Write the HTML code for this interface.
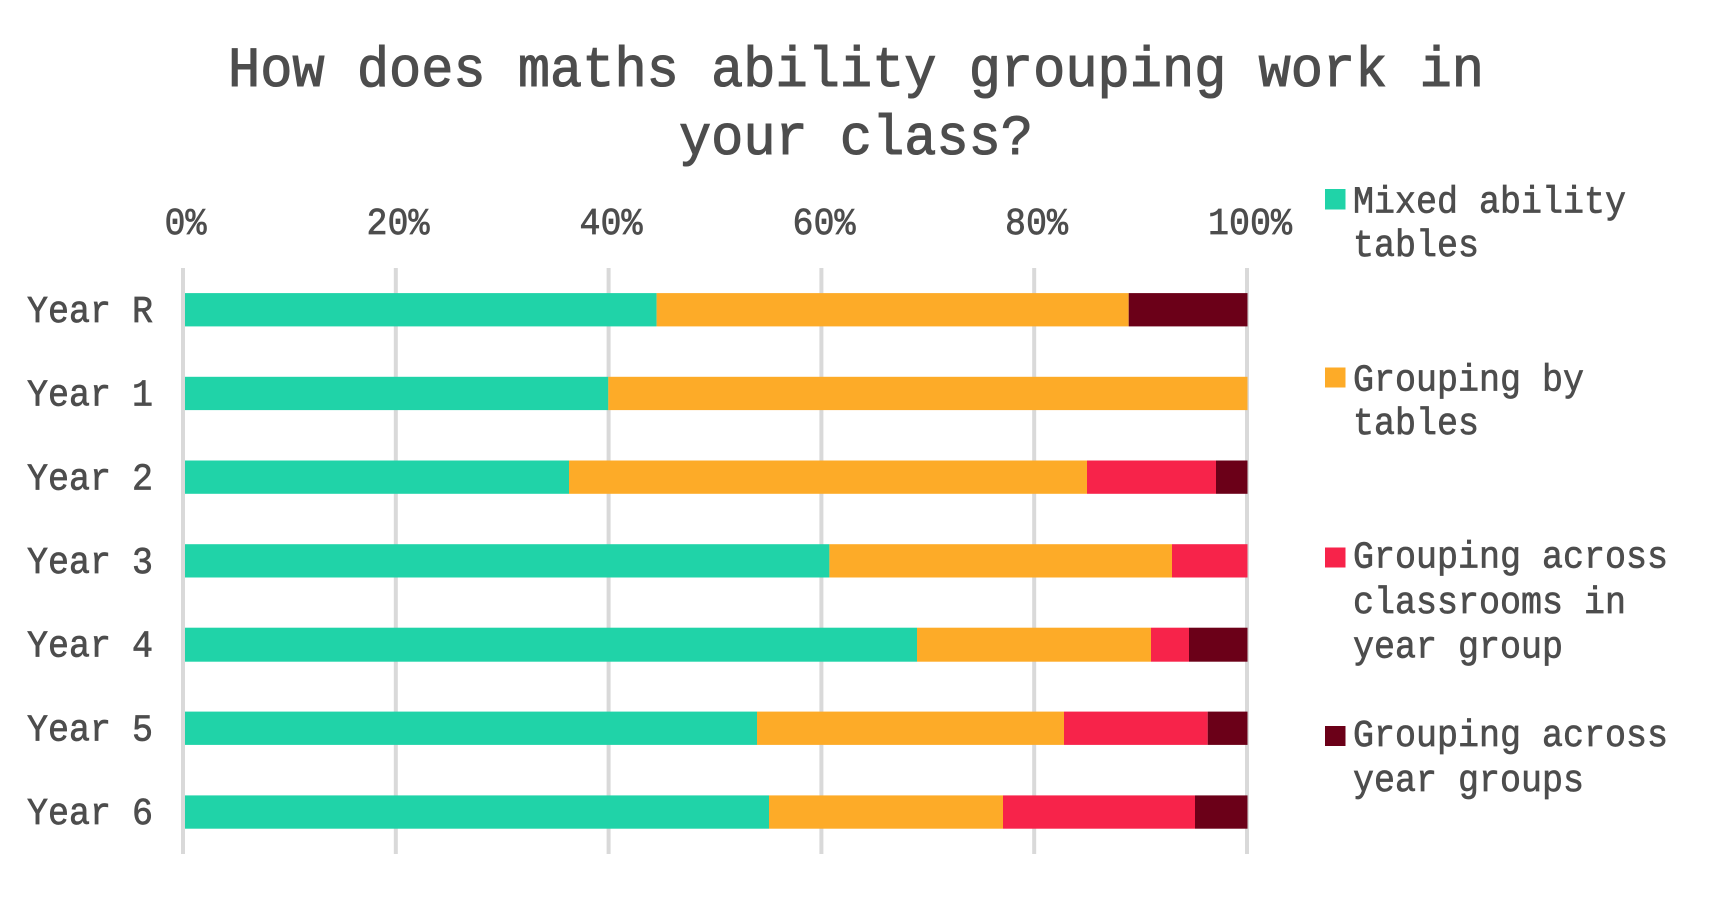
<!DOCTYPE html>
<html>
<head>
<meta charset="utf-8">
<style>
  html,body{margin:0;padding:0;background:#fff;}
  svg{display:block;}
  text{font-family:"Liberation Mono","DejaVu Sans Mono",monospace;fill:#4d4d4d;stroke:#4d4d4d;stroke-width:0.7px;}
  .t{stroke-width:1.1px;}
</style>
</head>
<body>
<svg width="1715" height="900" viewBox="0 0 1715 900" xmlns="http://www.w3.org/2000/svg">
  <rect x="0" y="0" width="1715" height="900" fill="#ffffff"/>

  <!-- Title -->
  <text class="t" x="856" y="86" font-size="57" text-anchor="middle" textLength="1256" lengthAdjust="spacingAndGlyphs">How does maths ability grouping work in</text>
  <text class="t" x="856" y="154" font-size="57" text-anchor="middle" textLength="354" lengthAdjust="spacingAndGlyphs">your class?</text>

  <!-- Tick labels -->
  <g font-size="38" text-anchor="middle">
    <text x="185.5" y="234" textLength="42" lengthAdjust="spacingAndGlyphs">0%</text>
    <text x="398" y="234" textLength="63" lengthAdjust="spacingAndGlyphs">20%</text>
    <text x="611" y="234" textLength="63" lengthAdjust="spacingAndGlyphs">40%</text>
    <text x="824" y="234" textLength="63" lengthAdjust="spacingAndGlyphs">60%</text>
    <text x="1036.5" y="234" textLength="63" lengthAdjust="spacingAndGlyphs">80%</text>
    <text x="1250" y="234" textLength="84" lengthAdjust="spacingAndGlyphs">100%</text>
  </g>

  <!-- Gridlines -->
  <g fill="#d9d9d9">
    <rect x="181" y="268" width="4" height="586"/>
    <rect x="393.8" y="268" width="4" height="586"/>
    <rect x="606.6" y="268" width="4" height="586"/>
    <rect x="819.4" y="268" width="4" height="586"/>
    <rect x="1032.2" y="268" width="4" height="586"/>
    <rect x="1245" y="268" width="4" height="586"/>
  </g>

  <!-- Bars -->
  <g>
    <rect x="185" y="293.1" width="471.6" height="33.3" fill="#20d3a8"/>
    <rect x="656.6" y="293.1" width="472.1" height="33.3" fill="#fdab28"/>
    <rect x="1128.7" y="293.1" width="118.8" height="33.3" fill="#6b0018"/>
  </g>
  <g>
    <rect x="185" y="376.8" width="423.3" height="33.3" fill="#20d3a8"/>
    <rect x="608.3" y="376.8" width="639.2" height="33.3" fill="#fdab28"/>
  </g>
  <g>
    <rect x="185" y="460.5" width="384" height="33.3" fill="#20d3a8"/>
    <rect x="569" y="460.5" width="518" height="33.3" fill="#fdab28"/>
    <rect x="1087" y="460.5" width="129" height="33.3" fill="#f7234a"/>
    <rect x="1216" y="460.5" width="31.5" height="33.3" fill="#6b0018"/>
  </g>
  <g>
    <rect x="185" y="544.2" width="644.4" height="33.3" fill="#20d3a8"/>
    <rect x="829.4" y="544.2" width="342.6" height="33.3" fill="#fdab28"/>
    <rect x="1172" y="544.2" width="75.5" height="33.3" fill="#f7234a"/>
  </g>
  <g>
    <rect x="185" y="627.7" width="732" height="34" fill="#20d3a8"/>
    <rect x="917" y="627.7" width="234" height="34" fill="#fdab28"/>
    <rect x="1151" y="627.7" width="38" height="34" fill="#f7234a"/>
    <rect x="1189" y="627.7" width="58.5" height="34" fill="#6b0018"/>
  </g>
  <g>
    <rect x="185" y="711.6" width="572" height="33.3" fill="#20d3a8"/>
    <rect x="757" y="711.6" width="307" height="33.3" fill="#fdab28"/>
    <rect x="1064" y="711.6" width="143.7" height="33.3" fill="#f7234a"/>
    <rect x="1207.7" y="711.6" width="39.8" height="33.3" fill="#6b0018"/>
  </g>
  <g>
    <rect x="185" y="795.4" width="584" height="33.3" fill="#20d3a8"/>
    <rect x="769" y="795.4" width="234" height="33.3" fill="#fdab28"/>
    <rect x="1003" y="795.4" width="192" height="33.3" fill="#f7234a"/>
    <rect x="1195" y="795.4" width="52.5" height="33.3" fill="#6b0018"/>
  </g>

  <!-- Category labels -->
  <g font-size="38" text-anchor="end">
    <text x="153" y="322" textLength="126" lengthAdjust="spacingAndGlyphs">Year R</text>
    <text x="153" y="405.6" textLength="126" lengthAdjust="spacingAndGlyphs">Year 1</text>
    <text x="153" y="489.3" textLength="126" lengthAdjust="spacingAndGlyphs">Year 2</text>
    <text x="153" y="573" textLength="126" lengthAdjust="spacingAndGlyphs">Year 3</text>
    <text x="153" y="656.7" textLength="126" lengthAdjust="spacingAndGlyphs">Year 4</text>
    <text x="153" y="740.4" textLength="126" lengthAdjust="spacingAndGlyphs">Year 5</text>
    <text x="153" y="824.1" textLength="126" lengthAdjust="spacingAndGlyphs">Year 6</text>
  </g>

  <!-- Legend -->
  <rect x="1325" y="189" width="20.5" height="20.5" fill="#20d3a8"/>
  <rect x="1325" y="367.5" width="20.5" height="20" fill="#fdab28"/>
  <rect x="1325" y="547.5" width="20.5" height="20" fill="#f7234a"/>
  <rect x="1325" y="726" width="20.5" height="20" fill="#6b0018"/>
  <g font-size="38">
    <text x="1353" y="212.3" textLength="273" lengthAdjust="spacingAndGlyphs">Mixed ability</text>
    <text x="1353" y="256" textLength="126" lengthAdjust="spacingAndGlyphs">tables</text>
    <text x="1353" y="390.5" textLength="231" lengthAdjust="spacingAndGlyphs">Grouping by</text>
    <text x="1353" y="434" textLength="126" lengthAdjust="spacingAndGlyphs">tables</text>
    <text x="1353" y="567.5" textLength="315" lengthAdjust="spacingAndGlyphs">Grouping across</text>
    <text x="1353" y="613" textLength="273" lengthAdjust="spacingAndGlyphs">classrooms in</text>
    <text x="1353" y="657.5" textLength="210" lengthAdjust="spacingAndGlyphs">year group</text>
    <text x="1353" y="746" textLength="315" lengthAdjust="spacingAndGlyphs">Grouping across</text>
    <text x="1353" y="791" textLength="231" lengthAdjust="spacingAndGlyphs">year groups</text>
  </g>
</svg>
</body>
</html>
